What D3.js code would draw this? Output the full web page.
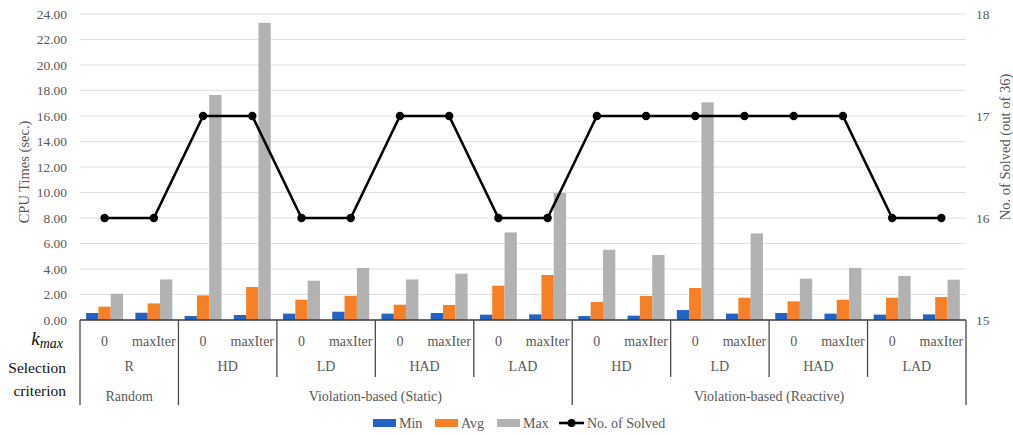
<!DOCTYPE html>
<html>
<head>
<meta charset="utf-8">
<script src="https://cdn.jsdelivr.net/npm/d3@7"></script>
</head>
<body style="margin:0">
<svg id="chart" width="1013" height="435"></svg>
<script>
// k_max setting for each bar group
const kmax = ["0","maxIter","0","maxIter","0","maxIter","0","maxIter","0","maxIter",
              "0","maxIter","0","maxIter","0","maxIter","0","maxIter"];
// selection criteria (each spans two k_max columns)
const criteria = ["R","HD","LD","HAD","LAD","HD","LD","HAD","LAD"];
// families of criteria: [label, number of criteria spanned]
const families = [["Random", 1], ["Violation-based (Static)", 4], ["Violation-based (Reactive)", 4]];

const minTimes = [0.55,0.57,0.31,0.39,0.50,0.65,0.50,0.55,0.42,0.44,0.31,0.34,0.78,0.50,0.55,0.50,0.42,0.44];
const avgTimes = [1.05,1.30,1.93,2.59,1.59,1.90,1.20,1.18,2.69,3.53,1.41,1.88,2.51,1.75,1.46,1.59,1.75,1.80];
const maxTimes = [2.06,3.18,17.65,23.30,3.08,4.08,3.18,3.63,6.87,9.96,5.51,5.10,17.07,6.79,3.24,4.08,3.45,3.16];
const solved   = [16,16,17,17,16,16,17,17,16,16,17,17,17,17,17,17,16,16];

const leftTicks = [0,2,4,6,8,10,12,14,16,18,20,22,24];
const rightTicks = [15,16,17,18];

const seriesNames = ["Min","Avg","Max"];
const seriesColors = ["#2263c4","#f58025","#b2b2b2"];
const seriesData = [minTimes, avgTimes, maxTimes];

const FONT = "Liberation Serif";
const GREY_TEXT = "#595959";

// apply the serif face both as attribute and inline style
function serif(sel, size) {
  return sel.attr("font-family", FONT).style("font-family", FONT).attr("font-size", size);
}

const svg = d3.select("#chart");
const plotLeft = 80, plotRight = 966, plotTop = 14, plotBottom = 320;
const idx = d3.range(kmax.length);

const x = d3.scaleBand().domain(idx).range([plotLeft, plotRight]).padding(0);
const xs = d3.scaleBand().domain(d3.range(3)).range([0, x.bandwidth()]).paddingInner(0).paddingOuter(0.5);
const y = d3.scaleLinear().domain([0, 24]).range([plotBottom, plotTop]);
const y2 = d3.scaleLinear().domain([15, 18]).range([plotBottom, plotTop]);

// gridlines
svg.selectAll("line.grid").data(leftTicks.filter(d => d > 0)).join("line")
  .attr("class", "grid")
  .attr("x1", plotLeft).attr("x2", plotRight)
  .attr("y1", d => y(d)).attr("y2", d => y(d))
  .attr("stroke", "#dedede").attr("stroke-width", 1);

// left axis labels
const yAxis = d3.axisLeft(y).tickValues(leftTicks).tickFormat(d3.format(".2f")).tickSize(0).tickPadding(13);
const gy = svg.append("g").attr("transform", `translate(${plotLeft},0)`).call(yAxis);
gy.attr("font-family", FONT).attr("font-size", 13.5);
gy.select(".domain").remove();
serif(gy.selectAll("text"), 13.5).attr("fill", GREY_TEXT);

// right axis labels
const yAxis2 = d3.axisRight(y2).tickValues(rightTicks).tickFormat(d3.format("d")).tickSize(0).tickPadding(10);
const gy2 = svg.append("g").attr("transform", `translate(${plotRight},0)`).call(yAxis2);
gy2.attr("font-family", FONT).attr("font-size", 13.5);
gy2.select(".domain").remove();
serif(gy2.selectAll("text"), 13.5).attr("fill", GREY_TEXT);

// bars
seriesData.forEach((vals, s) => {
  svg.append("g").selectAll("rect").data(idx).join("rect")
    .attr("x", i => x(i) + xs(s))
    .attr("width", xs.bandwidth())
    .attr("y", i => y(vals[i]))
    .attr("height", i => y(0) - y(vals[i]))
    .attr("fill", seriesColors[s]);
});

// solved line
const line = d3.line().x(i => x(i) + x.bandwidth() / 2).y(i => y2(solved[i]));
svg.append("path").datum(idx).attr("d", line)
  .attr("fill", "none").attr("stroke", "#000").attr("stroke-width", 2.6)
  .attr("stroke-linejoin", "round");
svg.append("g").selectAll("circle").data(idx).join("circle")
  .attr("cx", i => x(i) + x.bandwidth() / 2).attr("cy", i => y2(solved[i]))
  .attr("r", 4.2).attr("fill", "#000");

// axis titles
serif(svg.append("text"), 14.5).attr("transform", "translate(29,172) rotate(-90)")
  .attr("text-anchor", "middle").attr("fill", GREY_TEXT)
  .text("CPU Times (sec.)");
serif(svg.append("text"), 14.5).attr("transform", "translate(1010,147) rotate(-90)")
  .attr("text-anchor", "middle").attr("fill", GREY_TEXT)
  .text("No. of Solved (out of 36)");

// category table below the plot
const tbl = svg.append("g").attr("stroke", "#4a4a4a").attr("stroke-width", 1.3);
tbl.append("line").attr("x1", plotLeft).attr("x2", plotRight).attr("y1", plotBottom).attr("y2", plotBottom)
  .attr("stroke", "#3a3a3a");
const step = x.bandwidth();
// boundaries between criteria; family edges run down through the last row
const famEdges = [0];
families.forEach(f => famEdges.push(famEdges[famEdges.length - 1] + f[1]));
d3.range(criteria.length + 1).forEach(c => {
  const xx = plotLeft + c * 2 * step;
  const longLine = famEdges.includes(c);
  tbl.append("line").attr("x1", xx).attr("x2", xx).attr("y1", plotBottom).attr("y2", longLine ? 405 : 377);
});

serif(svg.selectAll("text.kmax").data(idx).join("text").attr("class", "kmax"), 14)
  .attr("x", i => x(i) + step / 2).attr("y", 346)
  .attr("text-anchor", "middle").attr("fill", GREY_TEXT)
  .text(i => kmax[i]);
serif(svg.selectAll("text.crit").data(criteria).join("text").attr("class", "crit"), 14)
  .attr("x", (d, c) => plotLeft + (c * 2 + 1) * step).attr("y", 371)
  .attr("text-anchor", "middle").attr("fill", GREY_TEXT)
  .text(d => d);
serif(svg.selectAll("text.fam").data(families).join("text").attr("class", "fam"), 14)
  .attr("x", (d, f) => plotLeft + (famEdges[f] + d[1] / 2) * 2 * step).attr("y", 401)
  .attr("text-anchor", "middle").attr("fill", GREY_TEXT)
  .text(d => d[0]);

// row headers
const kLabel = serif(svg.append("text"), 19).attr("x", 63).attr("y", 345).attr("text-anchor", "end")
  .attr("fill", "#111").attr("font-style", "italic");
kLabel.append("tspan").text("k");
kLabel.append("tspan").attr("font-size", 14).attr("dy", 3).text("max");
serif(svg.append("text"), 15.5).attr("x", 66).attr("y", 373).attr("text-anchor", "end")
  .attr("fill", "#111").text("Selection");
serif(svg.append("text"), 15.5).attr("x", 66).attr("y", 396).attr("text-anchor", "end")
  .attr("fill", "#111").text("criterion");

// legend
const legendItems = [
  {type: "bar", name: seriesNames[0], color: seriesColors[0], x: 373},
  {type: "bar", name: seriesNames[1], color: seriesColors[1], x: 435},
  {type: "bar", name: seriesNames[2], color: seriesColors[2], x: 497},
  {type: "line", name: "No. of Solved", color: "#000", x: 559}
];
legendItems.forEach(it => {
  if (it.type === "bar") {
    svg.append("rect").attr("x", it.x).attr("y", 419).attr("width", 23).attr("height", 8).attr("fill", it.color);
  } else {
    svg.append("line").attr("x1", it.x).attr("x2", it.x + 25).attr("y1", 423).attr("y2", 423)
      .attr("stroke", "#000").attr("stroke-width", 2.6);
    svg.append("circle").attr("cx", it.x + 12.5).attr("cy", 423).attr("r", 4).attr("fill", "#000");
  }
  serif(svg.append("text"), 14).attr("x", it.x + (it.type === "bar" ? 26 : 28)).attr("y", 428)
    .attr("fill", GREY_TEXT).text(it.name);
});
</script>
</body>
</html>
